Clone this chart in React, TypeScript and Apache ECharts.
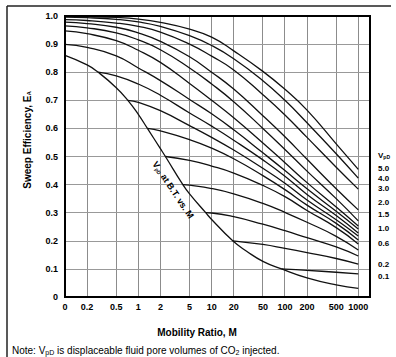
import React, { useEffect, useRef } from "react";
import * as echarts from "echarts";

// Mobility ratio tick positions (the "0" tick sits at M = 0.1 on the log scale)
const mobilityTicks = [0.1, 0.2, 0.5, 1, 2, 5, 10, 20, 50, 100, 200, 500, 1000];
const mobilityTickLabels = ["0", "0.2", "0.5", "1", "2", "5", "10", "20", "50", "100", "200", "500", "1000"];

// Curves that start at the left edge (values read at the mobility ticks)
const gridM = [0.1, 0.2, 0.5, 1, 2, 5, 10, 20, 50, 100, 200, 500, 1000];
const vpd50 = [0.999, 0.998, 0.995, 0.989, 0.977, 0.953, 0.925, 0.876, 0.803, 0.739, 0.665, 0.545, 0.454];
const vpd40 = [0.996, 0.994, 0.988, 0.979, 0.963, 0.93, 0.895, 0.848, 0.77, 0.7, 0.62, 0.51, 0.423];
const vpd30 = [0.987, 0.984, 0.975, 0.963, 0.943, 0.9, 0.857, 0.808, 0.72, 0.648, 0.568, 0.462, 0.384];
const vpd20 = [0.978, 0.973, 0.96, 0.94, 0.91, 0.855, 0.8, 0.74, 0.645, 0.57, 0.49, 0.385, 0.31];
const vpd15 = [0.965, 0.958, 0.94, 0.915, 0.88, 0.815, 0.758, 0.695, 0.6, 0.525, 0.448, 0.35, 0.271];
const vpd10 = [0.947, 0.937, 0.912, 0.878, 0.835, 0.76, 0.7, 0.638, 0.548, 0.478, 0.407, 0.32, 0.253];
const vpd09 = [0.899, 0.888, 0.858, 0.815, 0.77, 0.703, 0.652, 0.595, 0.513, 0.45, 0.385, 0.305, 0.242];

// Curves that branch off the breakthrough curve
const vpd08M = [0.283, 0.5, 1, 2, 5, 10, 20, 50, 100, 200, 500, 1000];
const vpd08 = [0.8, 0.787, 0.758, 0.718, 0.655, 0.608, 0.558, 0.488, 0.43, 0.365, 0.29, 0.228];
const vpd07M = [0.72, 1, 2, 5, 10, 20, 50, 100, 200, 500, 1000];
const vpd07 = [0.7, 0.693, 0.663, 0.61, 0.568, 0.523, 0.458, 0.405, 0.345, 0.275, 0.217];
const vpd06M = [1.33, 2, 5, 10, 20, 50, 100, 200, 500, 1000];
const vpd06 = [0.6, 0.591, 0.56, 0.53, 0.492, 0.432, 0.382, 0.327, 0.262, 0.203];
const vpd05M = [2.34, 5, 10, 20, 50, 100, 200, 500, 1000];
const vpd05 = [0.5, 0.486, 0.466, 0.441, 0.397, 0.357, 0.308, 0.247, 0.189];
const vpd04M = [4.05, 5, 10, 20, 50, 100, 200, 500, 1000];
const vpd04 = [0.4, 0.398, 0.386, 0.367, 0.333, 0.301, 0.266, 0.216, 0.167];
const vpd03M = [8.3, 10, 20, 50, 100, 200, 500, 1000];
const vpd03 = [0.3, 0.299, 0.286, 0.259, 0.236, 0.211, 0.178, 0.146];
const vpd02M = [19.4, 50, 100, 200, 500, 1000];
const vpd02 = [0.2, 0.187, 0.173, 0.158, 0.137, 0.117];
const vpd01M = [90, 100, 200, 500, 1000];
const vpd01 = [0.1, 0.0995, 0.095, 0.088, 0.082];

// Breakthrough curve (V_pD at B.T. vs M)
const btM = [0.1, 0.2, 0.283, 0.5, 0.72, 1, 1.33, 2, 2.34, 4.05, 5, 8.3, 10, 19.4, 30, 50, 90, 200, 500, 1000];
const btE = [0.86, 0.826, 0.8, 0.745, 0.7, 0.65, 0.6, 0.528, 0.5, 0.4, 0.367, 0.3, 0.276, 0.2, 0.163, 0.127, 0.1, 0.068, 0.043, 0.031];

// Right-side V_pD labels
const vpdLabels = ["5.0", "4.0", "3.0", "2.0", "1.5", "1.0", "0.6", "0.2", "0.1"];
const vpdLabelY = [168, 178, 188, 202, 214, 228, 243, 264, 276];

const FONT = "'Liberation Sans', Arial, Helvetica, sans-serif";

export default function App() {
  const ref = useRef<HTMLDivElement>(null);
  useEffect(() => {
    const chart = echarts.init(ref.current!, null, { renderer: "svg" });
    const toPts = (m: number[], e: number[]) => m.map((v, i) => [Math.log10(v), e[i]]);
    const curves: [number[], number[]][] = [
      [gridM, vpd50], [gridM, vpd40], [gridM, vpd30], [gridM, vpd20], [gridM, vpd15], [gridM, vpd10], [gridM, vpd09],
      [vpd08M, vpd08], [vpd07M, vpd07], [vpd06M, vpd06], [vpd05M, vpd05], [vpd04M, vpd04], [vpd03M, vpd03],
      [vpd02M, vpd02], [vpd01M, vpd01], [btM, btE],
    ];
    const tickPos = mobilityTicks.map((m) => Math.log10(m));
    const sub = { fontSize: 6, fontWeight: "bold", fontFamily: FONT, verticalAlign: "bottom", padding: [4, 0, 0, 0], fill: "#000" } as any;
    const graphics: any[] = [
      { type: "rect", z: 20, shape: { x: 65, y: 16, width: 305, height: 281 }, style: { fill: "none", stroke: "#000", lineWidth: 2 } },
      { type: "line", shape: { x1: 7, y1: 6, x2: 391, y2: 6 }, style: { stroke: "#222", lineWidth: 1.5 } },
      { type: "line", shape: { x1: 7, y1: 6, x2: 7, y2: 357 }, style: { stroke: "#222", lineWidth: 1.5 } },
      {
        type: "text", x: 27, y: 140, rotation: Math.PI / 2,
        style: {
          text: "Sweep Efficiency, E{s|A}", font: `bold 10px ${FONT}`, fill: "#000",
          textAlign: "center", textVerticalAlign: "middle", rich: { s: sub },
        },
      },
      {
        type: "text", x: 197, y: 332,
        style: { text: "Mobility Ratio, M", font: `bold 10px ${FONT}`, fill: "#000", textAlign: "center", textVerticalAlign: "middle" },
      },
      {
        type: "text", x: 12, y: 350,
        style: {
          text: "Note: V{s|pD} is displaceable fluid pore volumes of CO{s|2} injected.", font: `10px ${FONT}`, fill: "#000",
          textAlign: "left", textVerticalAlign: "middle",
          rich: { s: { ...sub, fontWeight: "normal", fontSize: 7 } },
        },
      },
      {
        type: "text", x: 173, y: 190, rotation: -0.98, z: 20,
        style: {
          text: "V{s|pD} at B.T. vs. M", font: `bold 9px ${FONT}`, fill: "#000",
          textAlign: "center", textVerticalAlign: "middle", rich: { s: { ...sub, fontSize: 5 } },
        },
      },
      {
        type: "text", x: 378, y: 155,
        style: { text: "V{s|pD}", font: `bold 8px ${FONT}`, fill: "#000", textAlign: "left", textVerticalAlign: "middle", rich: { s: { ...sub, fontSize: 5 } } },
      },
      ...vpdLabels.map((t, i) => ({
        type: "text", x: 378, y: vpdLabelY[i],
        style: { text: t, font: `bold 8px ${FONT}`, fill: "#000", textAlign: "left", textVerticalAlign: "middle" },
      })),
    ];
    chart.setOption({
      animation: false,
      grid: { left: 65, right: 26, top: 16, bottom: 60 },
      xAxis: {
        type: "value",
        min: -1,
        max: 3.16,
        axisLine: { show: false },
        axisTick: { show: false },
        axisLabel: {
          customValues: tickPos,
          formatter: (v: number) => {
            const i = tickPos.findIndex((t) => Math.abs(t - v) < 1e-6);
            return i >= 0 ? mobilityTickLabels[i] : "";
          },
          fontWeight: "bold",
          fontSize: 9,
          fontFamily: FONT,
          color: "#000",
          margin: 5,
        },
        splitLine: { show: false },
      },
      yAxis: {
        type: "value",
        min: 0,
        max: 1,
        interval: 0.1,
        axisLine: { show: false },
        axisTick: { show: false },
        axisLabel: {
          formatter: (v: number) => (v === 0 ? "0" : v.toFixed(1)),
          fontWeight: "bold",
          fontSize: 9,
          fontFamily: FONT,
          color: "#000",
          margin: 7,
        },
        splitLine: { show: true, lineStyle: { color: "#999", width: 1.2 } },
      },
      series: curves.map(([m, e]) => ({
        type: "line",
        data: toPts(m, e),
        smooth: 0.5,
        symbol: "none",
        lineStyle: { color: "#111", width: 1.3 },
        z: 5,
      })),
      graphic: graphics,
    });
    // vertical grid lines, placed through the chart's own x scale, drawn as crisp 1px columns
    const vlines = tickPos.slice(1).map((x) => {
      const top = chart.convertToPixel({ gridIndex: 0 }, [x, 1]) as number[];
      const bot = chart.convertToPixel({ gridIndex: 0 }, [x, 0]) as number[];
      const px = Math.round(top[0] - 0.5);
      return {
        type: "rect",
        shape: { x: px, y: top[1], width: 1, height: bot[1] - top[1] },
        style: { fill: "#8c8c8c" },
      };
    });
    chart.setOption({ graphic: [...graphics, ...vlines] });
    return () => chart.dispose();
  }, []);
  return <div ref={ref} style={{ position: "fixed", left: 0, top: 0, width: 396, height: 357, background: "#fff" }} />;
}
